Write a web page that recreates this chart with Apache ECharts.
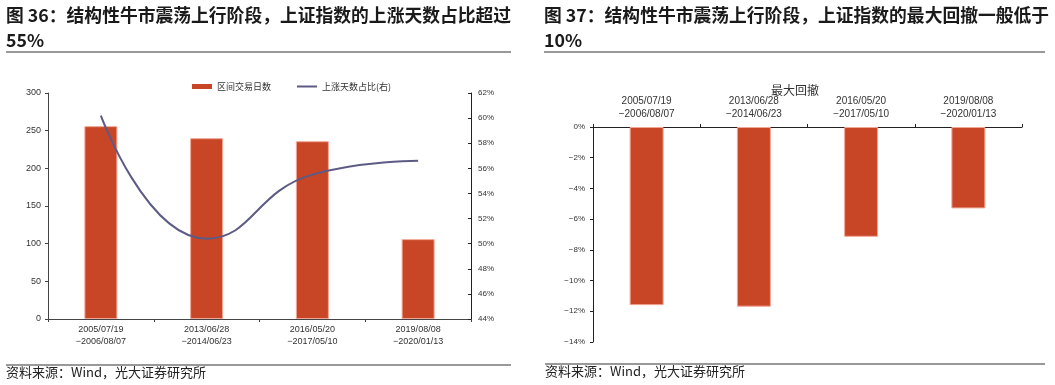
<!DOCTYPE html>
<html><head><meta charset="utf-8">
<script src="https://cdn.jsdelivr.net/npm/echarts@6/dist/echarts.min.js"></script>
<style>html,body{margin:0;padding:0;background:#fff}#c{width:1055px;height:385px}</style>
</head><body><div id="c"></div>
<script>
var categories = ['2005/07/19\n\u22122006/08/07', '2013/06/28\n\u22122014/06/23', '2016/05/20\n\u22122017/05/10', '2019/08/08\n\u22122020/01/13'];
var tradingDays = [256, 240, 236, 106];
var upDayRatio = [60.2, 50.4, 55.5, 56.6];
var maxDrawdown = [-11.6, -11.7, -7.15, -5.3];
var leftTicks = [0, 50, 100, 150, 200, 250, 300];
var rightTickPct = [44, 46, 48, 50, 52, 54, 56, 58, 60, 62];
var ddTicks = [-14, -12, -10, -8, -6, -4, -2, 0];

var RED = '#C84526', LINE = '#5C5B85';
var cjk = '"Noto Sans CJK SC", sans-serif';
var num = '"Liberation Sans", Arial, sans-serif';
var chart = echarts.init(document.getElementById('c'), null, {renderer: 'canvas'});
var axisLbl = {color: '#333', fontFamily: num};
chart.setOption({
  animation: false,
  title: [
    {text: '图 36：结构性牛市震荡上行阶段，上证指数的上涨天数占比超过\n55%', left: 6, top: 3, padding: 0,
     textStyle: {fontFamily: cjk, fontSize: 17.8, fontWeight: 'bold', color: '#1a1a1a', lineHeight: 25}},
    {text: '图 37：结构性牛市震荡上行阶段，上证指数的最大回撤一般低于\n10%', left: 544, top: 3, padding: 0,
     textStyle: {fontFamily: cjk, fontSize: 17.8, fontWeight: 'bold', color: '#1a1a1a', lineHeight: 25}},
    {text: '资料来源：Wind，光大证券研究所', left: 6, top: 366, padding: 0,
     textStyle: {fontFamily: cjk, fontSize: 13, fontWeight: 'normal', color: '#222'}},
    {text: '资料来源：Wind，光大证券研究所', left: 545, top: 365, padding: 0,
     textStyle: {fontFamily: cjk, fontSize: 13, fontWeight: 'normal', color: '#222'}},
    {text: '最大回撤', left: 771, top: 84, padding: 0,
     textStyle: {fontFamily: cjk, fontSize: 12, fontWeight: 'normal', color: '#333'}}
  ],
  graphic: [
    {type: 'line', shape: {x1: 6, y1: 52, x2: 511, y2: 52}, style: {stroke: '#777', lineWidth: 1.5}},
    {type: 'line', shape: {x1: 544, y1: 52, x2: 1045, y2: 52}, style: {stroke: '#777', lineWidth: 1.5}},
    {type: 'line', shape: {x1: 6, y1: 365, x2: 511, y2: 365}, style: {stroke: '#777', lineWidth: 1.5}},
    {type: 'line', shape: {x1: 545, y1: 364, x2: 1045, y2: 364}, style: {stroke: '#777', lineWidth: 1.5}}
  ],
  legend: {
    left: 192, top: 82, itemGap: 26, padding: 0,
    textStyle: {fontFamily: cjk, fontSize: 9, color: '#333'},
    data: [
      {name: '区间交易日数', icon: 'rect', itemStyle: {color: RED, borderWidth: 0}},
      {name: '上涨天数占比(右)', icon: 'path://M0,0H20V2H0Z'}
    ],
    itemWidth: 20, itemHeight: 5
  },
  grid: [
    {left: 48, right: 584, top: 93, bottom: 66, containLabel: false},
    {left: 593, right: 33, top: 127, bottom: 43, containLabel: false}
  ],
  xAxis: [
    {gridIndex: 0, type: 'category', data: categories,
     axisLine: {lineStyle: {color: '#444'}}, axisTick: {show: true, length: 3, lineStyle: {color: '#444'}},
     axisLabel: Object.assign({fontSize: 9, lineHeight: 12, margin: 5}, axisLbl)},
    {gridIndex: 1, type: 'category', data: categories, position: 'top',
     axisLine: {lineStyle: {color: '#222'}}, axisTick: {show: true, length: 3, lineStyle: {color: '#222'}},
     axisLabel: Object.assign({fontSize: 10, lineHeight: 13, margin: 6}, axisLbl)}
  ],
  yAxis: [
    {gridIndex: 0, type: 'value', min: leftTicks[0], max: leftTicks[leftTicks.length - 1], interval: 50,
     splitLine: {show: false}, axisLine: {show: true, lineStyle: {color: '#444'}},
     axisTick: {show: true, length: 3, lineStyle: {color: '#444'}},
     axisLabel: Object.assign({fontSize: 9, margin: 7}, axisLbl)},
    {gridIndex: 0, type: 'value', position: 'right', min: rightTickPct[0], max: rightTickPct[rightTickPct.length - 1], interval: 2,
     splitLine: {show: false}, axisLine: {show: true, lineStyle: {color: '#222'}},
     axisTick: {show: true, inside: true, length: 3, lineStyle: {color: '#222'}},
     axisLabel: Object.assign({fontSize: 8, margin: 7, formatter: '{value}%'}, axisLbl)},
    {gridIndex: 1, type: 'value', min: ddTicks[0], max: ddTicks[ddTicks.length - 1], interval: 2,
     splitLine: {show: false}, axisLine: {show: true, lineStyle: {color: '#222'}},
     axisTick: {show: true, length: 3, lineStyle: {color: '#222'}},
     axisLabel: Object.assign({fontSize: 8, margin: 8, formatter: function (v) { return (v < 0 ? '\u2212' + (-v) : v) + '%'; }}, axisLbl)}
  ],
  series: [
    {name: '区间交易日数', type: 'bar', xAxisIndex: 0, yAxisIndex: 0, data: tradingDays, barWidth: 33,
     itemStyle: {color: RED, borderColor: '#F2A796', borderWidth: 1}},
    {name: '上涨天数占比(右)', type: 'line', xAxisIndex: 0, yAxisIndex: 1, data: upDayRatio, smooth: 0.5,
     showSymbol: false, symbol: 'none', lineStyle: {color: LINE, width: 2}, itemStyle: {color: LINE}},
    {name: '最大回撤', type: 'bar', xAxisIndex: 1, yAxisIndex: 2, data: maxDrawdown, barWidth: 34,
     itemStyle: {color: RED, borderColor: '#F2A796', borderWidth: 1}}
  ]
});
</script></body></html>
